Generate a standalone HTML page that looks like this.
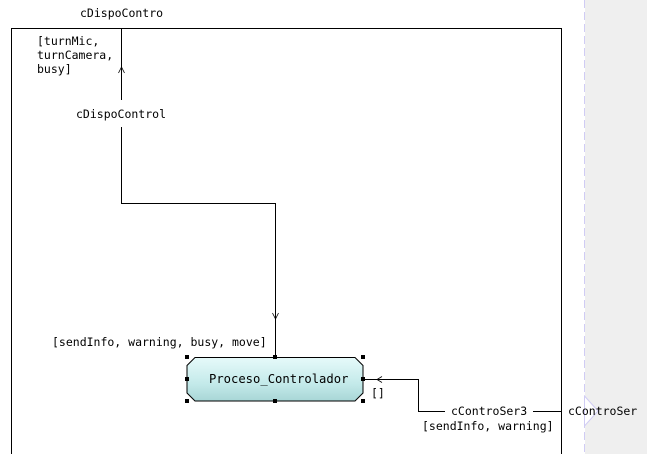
<!DOCTYPE html>
<html><head><meta charset="utf-8"><style>
html,body{margin:0;padding:0;background:#fff;width:647px;height:454px;overflow:hidden}
text{font-family:"DejaVu Sans Mono","Liberation Mono",monospace;font-size:11.5px;fill:#000}
</style></head><body>
<svg width="647" height="454" viewBox="0 0 647 454" xmlns="http://www.w3.org/2000/svg">
<defs><linearGradient id="g" x1="0" y1="0" x2="0" y2="1">
<stop offset="0" stop-color="#e6fafa"/><stop offset="0.6" stop-color="#c4eaea"/><stop offset="1" stop-color="#a8d6d6"/></linearGradient></defs>
<rect x="585" y="0" width="62" height="454" fill="#efefef"/>
<line x1="584.5" y1="0" x2="584.5" y2="454" stroke="#d0ccf4" stroke-width="1" stroke-dasharray="8,4"/>
<polygon points="584.5,396 598,411 584.5,426" fill="#fff" stroke="#d0ccf4"/>
<polyline points="11.5,454 11.5,28.5 561.5,28.5 561.5,454" fill="none" stroke="#000"/>
<text x="80" y="17">cDispoContro</text>
<text x="37" y="45">[turnMic,</text>
<text x="37" y="59">turnCamera,</text>
<text x="37" y="73">busy]</text>
<line x1="121.5" y1="28" x2="121.5" y2="100" stroke="#000"/>
<polyline points="118.5,73 121.5,67 124.5,73" fill="none" stroke="#000" stroke-width="0.8"/>
<text x="76" y="118">cDispoControl</text>
<polyline points="121.5,127 121.5,203.5 275.5,203.5 275.5,357" fill="none" stroke="#000"/>
<polyline points="272.5,313 275.5,319 278.5,313" fill="none" stroke="#000" stroke-width="0.8"/>
<text x="52" y="346">[sendInfo, warning, busy, move]</text>
<polygon points="195,357.5 355,357.5 363,365.5 363,393 355,401 195,401 187,393 187,365.5" fill="url(#g)" stroke="#000"/>
<text x="209" y="383" style="font-size:12.2px">Proceso_Controlador</text>
<g fill="#000">
<rect x="185" y="355" width="4" height="4"/><rect x="273" y="355" width="4" height="4"/><rect x="361" y="355" width="4" height="4"/>
<rect x="185" y="377" width="4" height="4"/><rect x="361" y="377" width="4" height="4"/>
<rect x="185" y="399" width="4" height="4"/><rect x="273" y="399" width="4" height="4"/><rect x="361" y="399" width="4" height="4"/>
</g>
<polyline points="363,379.5 418.5,379.5 418.5,411.5 445,411.5" fill="none" stroke="#000"/>
<polyline points="382,376.5 377,379.5 382,382.5" fill="none" stroke="#000" stroke-width="0.8"/>
<text x="371" y="397">[]</text>
<text x="451" y="415">cControSer3</text>
<line x1="533" y1="411.5" x2="561" y2="411.5" stroke="#000"/>
<text x="422" y="430">[sendInfo, warning]</text>
<text x="568" y="415">cControSer</text>
</svg>
</body></html>
